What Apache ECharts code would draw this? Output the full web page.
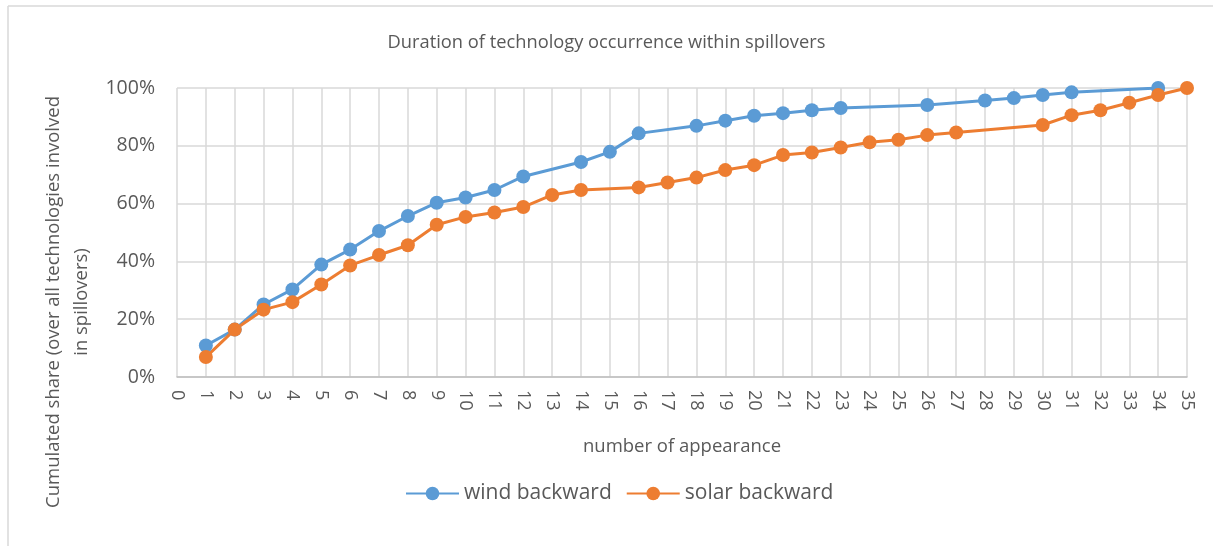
<!DOCTYPE html>
<html>
<head>
<meta charset="utf-8">
<script src="https://cdn.jsdelivr.net/npm/echarts@6/dist/echarts.min.js"></script>
<style>
  html, body { margin: 0; padding: 0; background: #fff; }
  #chart { width: 1213px; height: 546px; }
</style>
</head>
<body>
<div id="chart"></div>
<script>
// number of appearance (x) and cumulated share in % (y)
const windX = [1, 2, 3, 4, 5, 6, 7, 8, 9, 10, 11, 12, 14, 15, 16, 18, 19, 20, 21, 22, 23, 26, 28, 29, 30, 31, 34]
const windY = [10.9, 16.4, 25.1, 30.3, 38.9, 44.1, 50.5, 55.7, 60.3, 62.1, 64.7, 69.4, 74.4, 77.9, 84.3, 86.9, 88.7, 90.4, 91.3, 92.3, 93.1, 94.1, 95.7, 96.5, 97.6, 98.5, 100]
const solarX = [1, 2, 3, 4, 5, 6, 7, 8, 9, 10, 11, 12, 13, 14, 16, 17, 18, 19, 20, 21, 22, 23, 24, 25, 26, 27, 30, 31, 32, 33, 34, 35]
const solarY = [6.9, 16.4, 23.3, 25.9, 32.0, 38.6, 42.2, 45.6, 52.7, 55.4, 56.9, 58.8, 63.0, 64.7, 65.6, 67.3, 69.0, 71.6, 73.3, 76.8, 77.7, 79.4, 81.2, 82.1, 83.7, 84.6, 87.2, 90.6, 92.3, 94.9, 97.6, 100]

const font = '"Open Sans", "Noto Sans", sans-serif'
const textColor = '#595959'

const pairs = (xs, ys) => xs.map((x, i) => [x, ys[i]])

const myChart = echarts.init(document.getElementById('chart'))
myChart.setOption({
  animation: false,
  textStyle: { fontFamily: font },
  title: {
    text: 'Duration of technology occurrence within spillovers',
    left: 'center',
    top: 29,
    textStyle: { fontFamily: font, fontSize: 18.3, fontWeight: 'normal', color: textColor }
  },
  legend: {
    bottom: 42,
    left: 405,
    padding: 0,
    itemWidth: 53,
    itemHeight: 17,
    itemGap: 14,
    textStyle: { fontFamily: font, fontSize: 21, color: textColor },
    data: ['wind backward', 'solar backward']
  },
  grid: { left: 177, right: 26, top: 88, bottom: 169 },
  xAxis: {
    type: 'value',
    min: 0,
    max: 35,
    interval: 1,
    name: 'number of appearance',
    nameLocation: 'middle',
    nameGap: 60,
    nameTextStyle: { fontFamily: font, fontSize: 18.5, color: textColor },
    axisLine: { lineStyle: { color: '#bfbfbf', width: 1.5 } },
    axisTick: { show: false },
    axisLabel: { rotate: -90, fontSize: 18, color: textColor, margin: 13 },
    splitLine: { show: true, lineStyle: { color: '#d9d9d9', width: 1.5 } }
  },
  yAxis: {
    type: 'value',
    min: 0,
    max: 100,
    interval: 20,
    axisLine: { show: false },
    axisTick: { show: false },
    axisLabel: { formatter: '{value}%', fontSize: 19.5, color: textColor, margin: 22 },
    splitLine: { lineStyle: { color: '#d9d9d9', width: 1.5 } }
  },
  graphic: [
    { type: 'line', shape: { x1: 8, y1: 6, x2: 1213, y2: 6 }, style: { stroke: '#d9d9d9', lineWidth: 1.5 } },
    { type: 'line', shape: { x1: 8, y1: 6, x2: 8, y2: 546 }, style: { stroke: '#d9d9d9', lineWidth: 1.5 } },
    {
      type: 'text',
      x: 68,
      y: 302,
      rotation: Math.PI / 2,
      style: {
        text: 'Cumulated share (over all technologies involved\nin spillovers)',
        font: '18.5px ' + font,
        fill: textColor,
        align: 'center',
        verticalAlign: 'middle',
        lineHeight: 28
      }
    }
  ],
  series: [
    {
      name: 'wind backward',
      type: 'line',
      data: pairs(windX, windY),
      symbol: 'circle',
      symbolSize: 14,
      itemStyle: { color: '#5b9bd5' },
      lineStyle: { color: '#5b9bd5', width: 3 }
    },
    {
      name: 'solar backward',
      type: 'line',
      data: pairs(solarX, solarY),
      symbol: 'circle',
      symbolSize: 14,
      itemStyle: { color: '#ed7d31' },
      lineStyle: { color: '#ed7d31', width: 3 }
    }
  ]
})
</script>
</body>
</html>
